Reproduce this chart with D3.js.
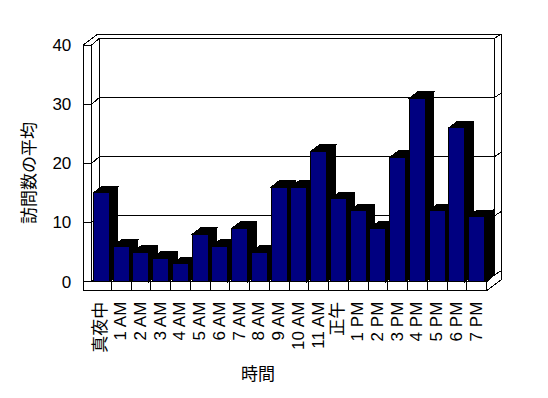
<!DOCTYPE html>
<html>
<head>
<meta charset="utf-8">
<script src="https://cdn.jsdelivr.net/npm/d3@7"></script>
<style>
  html, body { margin: 0; padding: 0; background: #fff; }
  svg { display: block; }
  text { font-family: "Liberation Sans", "Noto Sans CJK JP", sans-serif; fill: #000; }
</style>
</head>
<body>
<script>
// ---- data ----
const categories = ["真夜中","1 AM","2 AM","3 AM","4 AM","5 AM","6 AM","7 AM","8 AM","9 AM","10 AM","11 AM","正午","1 PM","2 PM","3 PM","4 PM","5 PM","6 PM","7 PM"];
const visits = [15, 6, 5, 4, 3, 8, 6, 9, 5, 16, 16, 22, 14, 12, 9, 21, 31, 12, 26, 11];
const yTicks = [0, 10, 20, 30, 40];
const xTitle = "時間";
const yTitle = "訪問数の平均";

// ---- layout ----
const W = 548, H = 398;
const svg = d3.select("body").append("svg").attr("width", W).attr("height", H)
  .attr("shape-rendering", "crispEdges");

const x = d3.scaleBand().domain(categories).range([91.7, 486.7]).padding(0);
const y = d3.scaleLinear().domain([0, 40]).range([281.7, 45]);

const pl = x.range()[0], pr = x.range()[1];
const y0 = y(0), yT = y(40);
const dx = 7.6, dy = -6.6;     // inner back plane offset
const ox = 14.5, oy = -11;     // outer back offset
const wallT = 8.4, floorT = 9;
const bdx = 8.5, bdy = -6.6;   // bar depth

const line = d3.line();
const g = svg.append("g").attr("stroke", "#000").attr("stroke-width", 1).attr("fill", "none");

// back plane
g.append("rect").attr("x", pl + dx).attr("y", yT + dy)
  .attr("width", pr - pl).attr("height", y0 - yT).attr("fill", "#fff").attr("stroke", "none");

// gridlines on back plane, left wall diagonals, right end diagonals, front ticks
yTicks.forEach(v => {
  g.append("path").attr("d", line([[pl + dx, y(v) + dy], [pr + dx, y(v) + dy]]));
  g.append("path").attr("d", line([[pl, y(v)], [pl + dx, y(v) + dy]]));
  g.append("path").attr("d", line([[pr + dx, y(v) + dy], [pr + ox, y(v) + oy]]));
  g.append("path").attr("d", line([[pl - wallT, y(v)], [pl, y(v)]]));
});

// outer outline
g.append("path").attr("d", line([
  [pl - wallT, yT], [pl - wallT + ox, yT + oy], [pr + ox, yT + oy],
  [pr + ox, y0 + floorT + oy], [pr, y0 + floorT], [pl - wallT, y0 + floorT], [pl - wallT, yT]
]));
// inner edges
g.append("path").attr("d", line([[pl, yT], [pl, y0], [pr, y0], [pr, y0 + floorT]]));
g.append("path").attr("d", line([[pl + dx, yT + dy], [pl + dx, y0 + dy]]));
g.append("path").attr("d", line([[pr + dx, yT + dy], [pr + dx, y0 + dy]]));
g.append("path").attr("d", line([[pr, y0], [pr + dx, y0 + dy]]));

// floor front cell dividers
categories.slice(1).forEach(c => {
  g.append("path").attr("d", line([[x(c), y0], [x(c), y0 + floorT]]));
});

// bars
const bw = x.bandwidth() * 0.81, boff = x.bandwidth() * 0.09;
const bars = svg.append("g").attr("stroke", "#000").attr("stroke-width", 1);
categories.forEach((c, i) => {
  const v = visits[i];
  const bx = x(c) + boff, by = y(v);
  bars.append("path").attr("fill", "#000").attr("d", line([
    [bx + bw, by], [bx + bw + bdx, by + bdy], [bx + bw + bdx, y0 + bdy], [bx + bw, y0]
  ]) + "Z");
  bars.append("path").attr("fill", "#000").attr("d", line([
    [bx, by], [bx + bdx, by + bdy], [bx + bw + bdx, by + bdy], [bx + bw, by]
  ]) + "Z");
  bars.append("rect").attr("x", bx).attr("y", by).attr("width", bw).attr("height", y0 - by)
    .attr("fill", "#000080");
});

// y axis labels
const ya = svg.append("g").attr("transform", `translate(${pl - wallT},0)`)
  .call(d3.axisLeft(y).tickValues(yTicks).tickSize(0).tickPadding(12));
ya.select(".domain").remove();
ya.selectAll("text").style("font-size", "17px").attr("font-family", null);

// x axis labels
const xa = svg.append("g").attr("transform", `translate(0,${y0 + floorT})`)
  .call(d3.axisBottom(x).tickSize(0));
xa.select(".domain").remove();
xa.selectAll("text")
  .attr("transform", "rotate(-90)")
  .attr("x", -11).attr("y", 0).attr("dy", "0.28em")
  .style("text-anchor", "end").style("font-size", "17px").attr("font-family", null);

// titles
svg.append("text").attr("x", 258).attr("y", 374).attr("dy", "0.35em")
  .attr("text-anchor", "middle").style("font-size", "17px").text(xTitle);
svg.append("text").attr("transform", "translate(29,173) rotate(-90)").attr("dy", "0.35em")
  .attr("text-anchor", "middle").style("font-size", "17px").text(yTitle);
</script>
</body>
</html>
